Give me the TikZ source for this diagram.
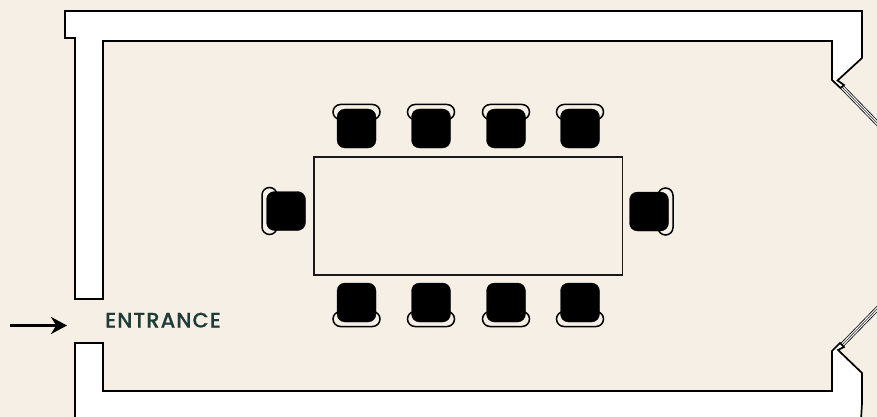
\documentclass[tikz,border=0pt]{standalone}
\usepackage{fontspec}
\setmainfont{Poppins}[UprightFont=* Medium,FakeBold=0.4]
\definecolor{cream}{HTML}{F5EFE6}
\definecolor{ink}{HTML}{1F3D36}
\usetikzlibrary{arrows.meta}
\tikzset{
  wall/.style={draw=black,line width=1.7pt,fill=white,line join=miter},
  seat/.style={fill=black,draw=black,line width=.3pt,rounded corners=8pt},
  chairback/.style={draw=black,line width=1.5pt,fill=cream,rounded corners=7.5pt},
  doorblack/.style={draw=black,line width=4.6pt},
  doorwhite/.style={draw=white,line width=3pt},
  doorgrey/.style={draw=black!70,line width=.8pt},
  tablebox/.style={draw=black!90,line width=1.35pt,fill=cream},
  label/.style={text=ink,font=\fontsize{21}{23}\selectfont\addfontfeature{LetterSpace=5},inner sep=0pt,anchor=base west}
}
\newcommand{\mychair}[3]{%
  \begin{scope}[shift={(#1,#2)},rotate=#3]
    \draw[chairback] (-23.5,-24) rectangle (23.5,-9);
    \fill[seat] (-19.5,-19.5) rectangle (19.5,19.5);
  \end{scope}}
\begin{document}
\begin{tikzpicture}[x=1pt,y=-1pt]
\useasboundingbox (0,0) rectangle (877,417);
\fill[cream] (0,0) rectangle (877,417);
% doors
\coordinate (d1a) at (841,86);
\coordinate (d1b) at (880,126);
\coordinate (d2a) at (841,346);
\coordinate (d2b) at (880,306);
\foreach \a/\b in {d1a/d1b,d2a/d2b}{
  \draw[doorblack] (\a) -- (\b);
  \draw[doorwhite] (\a) -- (\b);
  \draw[doorgrey] (\a) -- (\b);
}
% walls
\draw[wall] (75,420) -- (75,343) -- (103,343) -- (103,391) -- (832,391) -- (832,351) -- (840,343) -- (844,347) -- (838,350) -- (862,373) -- (862,403) -- (861,420);
\draw[wall] (103,299) -- (75,299) -- (75,38) -- (65,38) -- (65,11) -- (862,11) -- (862,58) -- (837.5,80.5) -- (844,85) -- (840.5,88) -- (832,80) -- (832,41) -- (103,41) -- cycle;
% table
\node[tablebox,minimum width=308.3pt,minimum height=118pt,inner sep=0pt,anchor=north west] (table) at (313.3,156.3) {};
% chairs
\foreach \x in {356.5,431,506,580}{
  \mychair{\x}{128.5}{0}
  \mychair{\x}{302.5}{180}
}
\mychair{286}{211}{90}
\mychair{649}{211.5}{-90}
% entrance
\coordinate (arrowstart) at (10,325.5);
\coordinate (arrowend) at (67,325.5);
\draw[line width=3.5pt,-{Stealth[length=16pt,width=17pt]}] (arrowstart) -- (arrowend);
\node[label] (entrance) at (105,327.5) {ENTRANCE};
\end{tikzpicture}
\end{document}
